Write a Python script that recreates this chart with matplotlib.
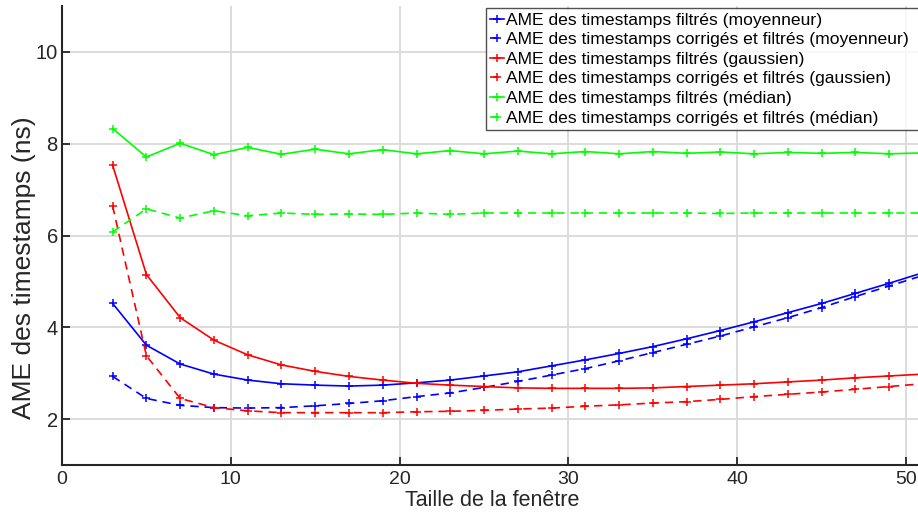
import matplotlib
matplotlib.use("Agg")
import matplotlib.pyplot as plt

# Tailles de fenêtre (impaires) et AME mesurée (ns)
taille = [3, 5, 7, 9, 11, 13, 15, 17, 19, 21, 23, 25, 27, 29, 31, 33, 35, 37, 39, 41, 43, 45, 47, 49, 51]

moy_filtre = [4.52, 3.61, 3.20, 2.98, 2.85, 2.77, 2.74, 2.72, 2.74, 2.79, 2.85, 2.94, 3.03,
              3.16, 3.29, 3.43, 3.58, 3.75, 3.93, 4.12, 4.32, 4.52, 4.74, 4.96, 5.19]
moy_corrige = [2.93, 2.45, 2.30, 2.25, 2.24, 2.25, 2.29, 2.34, 2.40, 2.49, 2.57, 2.69, 2.82,
               2.96, 3.10, 3.27, 3.45, 3.63, 3.81, 4.01, 4.21, 4.43, 4.67, 4.90, 5.13]
gauss_filtre = [7.53, 5.15, 4.21, 3.72, 3.40, 3.18, 3.04, 2.93, 2.85, 2.78, 2.74, 2.71, 2.68,
                2.67, 2.67, 2.67, 2.68, 2.71, 2.74, 2.77, 2.81, 2.85, 2.90, 2.94, 2.98]
gauss_corrige = [6.64, 3.38, 2.45, 2.25, 2.18, 2.14, 2.14, 2.14, 2.14, 2.16, 2.17, 2.19, 2.22,
                 2.24, 2.28, 2.31, 2.35, 2.38, 2.43, 2.49, 2.54, 2.59, 2.65, 2.71, 2.77]
med_filtre = [8.33, 7.71, 8.01, 7.76, 7.92, 7.77, 7.88, 7.78, 7.87, 7.78, 7.85, 7.78, 7.84,
              7.78, 7.83, 7.78, 7.83, 7.79, 7.82, 7.78, 7.81, 7.79, 7.81, 7.78, 7.80]
med_corrige = [6.08, 6.58, 6.38, 6.54, 6.43, 6.49, 6.46, 6.47, 6.46, 6.49, 6.46, 6.49, 6.49,
               6.49, 6.49, 6.49, 6.49, 6.49, 6.48, 6.49, 6.49, 6.49, 6.49, 6.49, 6.49]

libelles = [
    "AME des timestamps filtrés (moyenneur)",
    "AME des timestamps corrigés et filtrés (moyenneur)",
    "AME des timestamps filtrés (gaussien)",
    "AME des timestamps corrigés et filtrés (gaussien)",
    "AME des timestamps filtrés (médian)",
    "AME des timestamps corrigés et filtrés (médian)",
]

plt.rcParams["font.family"] = ["Liberation Sans", "DejaVu Sans"]

fig = plt.figure(figsize=(9.18, 5.15), dpi=100)
# l'axe déborde à droite comme dans l'original (image recadrée)
ax = fig.add_axes([62 / 918, 50 / 515, 861 / 918, 459 / 515])

series = [
    (moy_filtre, "blue", "-"),
    (moy_corrige, "blue", (0, (5, 3.5))),
    (gauss_filtre, "red", "-"),
    (gauss_corrige, "red", (0, (5, 3.5))),
    (med_filtre, "#00ff00", "-"),
    (med_corrige, "#00ff00", (0, (5, 3.5))),
]
for (valeurs, couleur, style), lib in zip(series, libelles):
    ax.plot(taille, valeurs, color=couleur, linestyle=style, linewidth=1.2,
            marker="+", markersize=5.5, markeredgewidth=1.1, label=lib)

ax.set_xlim(0, 51)
ax.set_ylim(1, 11)
ax.set_xticks([0, 10, 20, 30, 40, 50])
ax.set_yticks([2, 4, 6, 8, 10])

ax.grid(True, color="#d9d9d9", linewidth=1.3)
ax.set_axisbelow(True)
for cote in ["top", "right"]:
    ax.spines[cote].set_visible(False)
for cote in ["left", "bottom"]:
    ax.spines[cote].set_color("#262626")
    ax.spines[cote].set_linewidth(1.5)

ax.tick_params(direction="in", length=6, width=1.3, color="#262626",
               labelcolor="#262626")
ax.tick_params(axis="y", labelsize=14.5, pad=3)
ax.tick_params(axis="x", labelsize=14, pad=4)

ax.set_ylabel("AME des timestamps (ns)", fontsize=19, color="#262626")
ax.yaxis.set_label_coords(-0.03, 0.43)
ax.set_xlabel("Taille de la fenêtre", fontsize=15.5, color="#262626", labelpad=2)

# cadre de légende qui sort à droite de l'image, comme dans la figure d'origine
leg = ax.legend(loc="upper left", mode="expand",
                bbox_to_anchor=(486 / 918, 0, (928 - 486) / 918, 1 - 8 / 515),
                bbox_transform=fig.transFigure, fontsize=12.6, frameon=True,
                fancybox=False, handlelength=0.75, handletextpad=0.12,
                borderpad=0.25, labelspacing=0.25, borderaxespad=0)
leg.get_frame().set_edgecolor("#262626")
leg.get_frame().set_linewidth(1.0)

fig.savefig("out.png", dpi=100)
